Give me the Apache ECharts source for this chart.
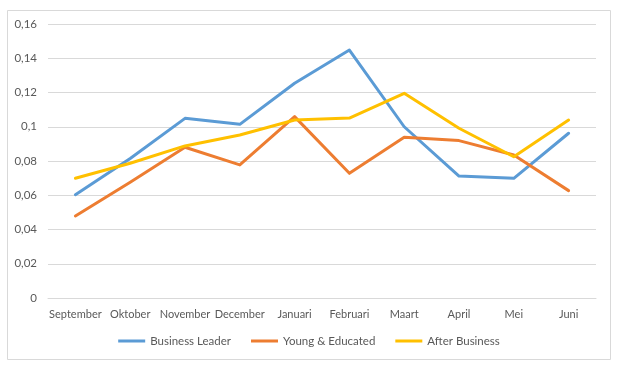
<!DOCTYPE html>
<html><head><meta charset="utf-8">
<script src="https://cdn.jsdelivr.net/npm/echarts@6/dist/echarts.min.js"></script>
<style>html,body{margin:0;padding:0;background:#fff}#c{width:618px;height:368px}</style>
</head><body><div id="c"></div>
<script>
const categories = ['September','Oktober','November','December','Januari','Februari','Maart','April','Mei','Juni'];
const businessLeader = [0.0603,0.0815,0.1049,0.1014,0.1254,0.1448,0.1000,0.0712,0.0699,0.0962];
const youngEducated = [0.0479,0.0676,0.0880,0.0777,0.1059,0.0728,0.0938,0.0919,0.0835,0.0627];
const afterBusiness = [0.0699,0.0787,0.0888,0.0952,0.1039,0.1051,0.1195,0.0991,0.0825,0.1039];
const seriesNames = ['Business Leader','Young & Educated','After Business'];
const colors = ['#5b9bd5','#ed7d31','#ffc000'];
const font = 'Lato, "Open Sans", sans-serif';
const chart = echarts.init(document.getElementById('c'), null, {renderer:'canvas'});
const mk = (name, data, color) => ({
  name, type:'line', data, symbol:'none', smooth:false,
  lineStyle:{color, width:3, cap:'round', join:'round'}, itemStyle:{color}
});
chart.setOption({
  animation:false,
  backgroundColor:'#fff',
  textStyle:{fontFamily:font},
  graphic:[{type:'rect', shape:{x:7.5,y:10.5,width:603,height:349}, style:{fill:'none', stroke:'#d9d9d9', lineWidth:1}, silent:true}],
  grid:{left:48, right:22, top:24, bottom:70},
  legend:{
    top:330, left:'center', itemWidth:27, itemHeight:3, itemGap:20, icon:'rect',
    textStyle:{color:'#595959', fontSize:11.5, fontFamily:font},
    data:seriesNames
  },
  xAxis:{
    type:'category', data:categories, boundaryGap:true,
    axisLine:{lineStyle:{color:'#d9d9d9'}}, axisTick:{show:false},
    axisLabel:{color:'#595959', fontSize:11, fontFamily:font, margin:11, interval:0}
  },
  yAxis:{
    type:'value', min:0, max:0.16, interval:0.02,
    axisLine:{show:false}, axisTick:{show:false},
    splitLine:{lineStyle:{color:'#d9d9d9', width:1}},
    axisLabel:{color:'#595959', fontSize:11.5, fontFamily:font, margin:11,
      formatter:v => v===0 ? '0' : String(Math.round(v*100)/100).replace('.',',')}
  },
  series:[
    mk(seriesNames[0], businessLeader, colors[0]),
    mk(seriesNames[1], youngEducated, colors[1]),
    mk(seriesNames[2], afterBusiness, colors[2])
  ]
});
</script></body></html>
